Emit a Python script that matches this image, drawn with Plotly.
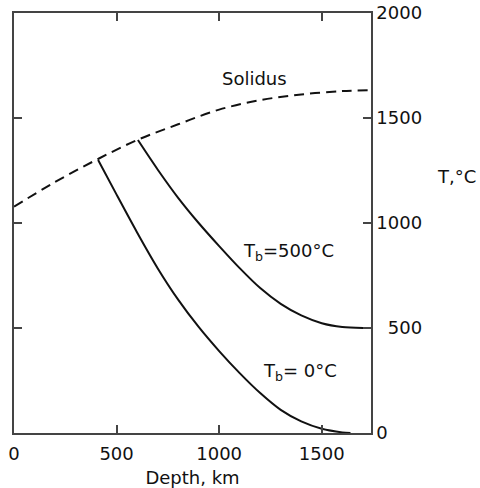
import plotly.graph_objects as go

# Data
solidus_depth = [0, 200, 400, 600, 800, 1000, 1200, 1400, 1600, 1740]
solidus_T = [1078, 1195, 1300, 1395, 1470, 1540, 1585, 1612, 1628, 1632]

tb0_depth = [410, 500, 600, 700, 800, 900, 1000, 1100, 1200, 1300, 1400, 1500, 1600, 1640]
tb0_T = [1300, 1135, 955, 785, 635, 505, 390, 285, 190, 110, 55, 20, 3, 0]

tb500_depth = [604, 700, 800, 900, 1000, 1100, 1200, 1300, 1400, 1500, 1600, 1700, 1740]
tb500_T = [1395, 1255, 1120, 1000, 890, 785, 690, 615, 560, 523, 505, 500, 500]

x_ticks = [0, 500, 1000, 1500]
x_ticklabels = ["0", "500", "1000", "1500"]
y_ticks = [0, 500, 1000, 1500, 2000]
y_ticklabels = ["0", "  500", "1000", "1500", "2000"]

FONT = "DejaVu Sans"
INK = "#111111"
FS = 18

fig = go.Figure()
fig.add_trace(go.Scatter(x=solidus_depth, y=solidus_T, mode="lines",
                         line=dict(color=INK, width=2, dash="10px,6px", shape="spline"),
                         showlegend=False, hoverinfo="skip"))
fig.add_trace(go.Scatter(x=tb0_depth, y=tb0_T, mode="lines",
                         line=dict(color=INK, width=2, shape="spline", smoothing=0.8),
                         showlegend=False, hoverinfo="skip"))
fig.add_trace(go.Scatter(x=tb500_depth, y=tb500_T, mode="lines",
                         line=dict(color=INK, width=2, shape="spline", smoothing=0.8),
                         showlegend=False, hoverinfo="skip"))

fig.add_annotation(x=1173, y=1686, text="Solidus", showarrow=False,
                   font=dict(family=FONT, size=FS, color=INK))
fig.add_annotation(x=1105, y=860, text="T<sub>b</sub>=500°C", showarrow=False,
                   xanchor="left", yanchor="middle",
                   font=dict(family=FONT, size=FS, color=INK))
fig.add_annotation(x=1205, y=290, text="T<sub>b</sub>= 0°C", showarrow=False,
                   xanchor="left", yanchor="middle",
                   font=dict(family=FONT, size=FS, color=INK))
fig.add_annotation(xref="paper", yref="paper", x=1.178, y=0.61, text="T,°C",
                   xanchor="left", yanchor="middle",
                   showarrow=False, font=dict(family=FONT, size=FS, color=INK))

fig.update_layout(
    width=480, height=488,
    margin=dict(l=14, r=109, t=13, b=55, autoexpand=False),
    paper_bgcolor="white", plot_bgcolor="white",
    font=dict(family=FONT, size=FS, color=INK),
    xaxis=dict(range=[0, 1740], tickvals=x_ticks, ticktext=x_ticklabels,
               ticks="inside", ticklen=8, tickwidth=1.5, tickcolor="#444",
               showline=True, linecolor="#444", linewidth=1.5, mirror="ticks",
               showgrid=False, zeroline=False, automargin=False,
               ticklabelstandoff=4,
               title=dict(text="Depth, km", standoff=10,
                          font=dict(family=FONT, size=FS, color=INK))),
    yaxis=dict(range=[0, 2000], side="right", tickvals=y_ticks, ticktext=y_ticklabels,
               ticks="inside", ticklen=8, tickwidth=1.5, tickcolor="#444",
               showline=True, linecolor="#444", linewidth=1.5, mirror="ticks",
               showgrid=False, zeroline=False, automargin=False),
)

fig.write_html("out.html")
